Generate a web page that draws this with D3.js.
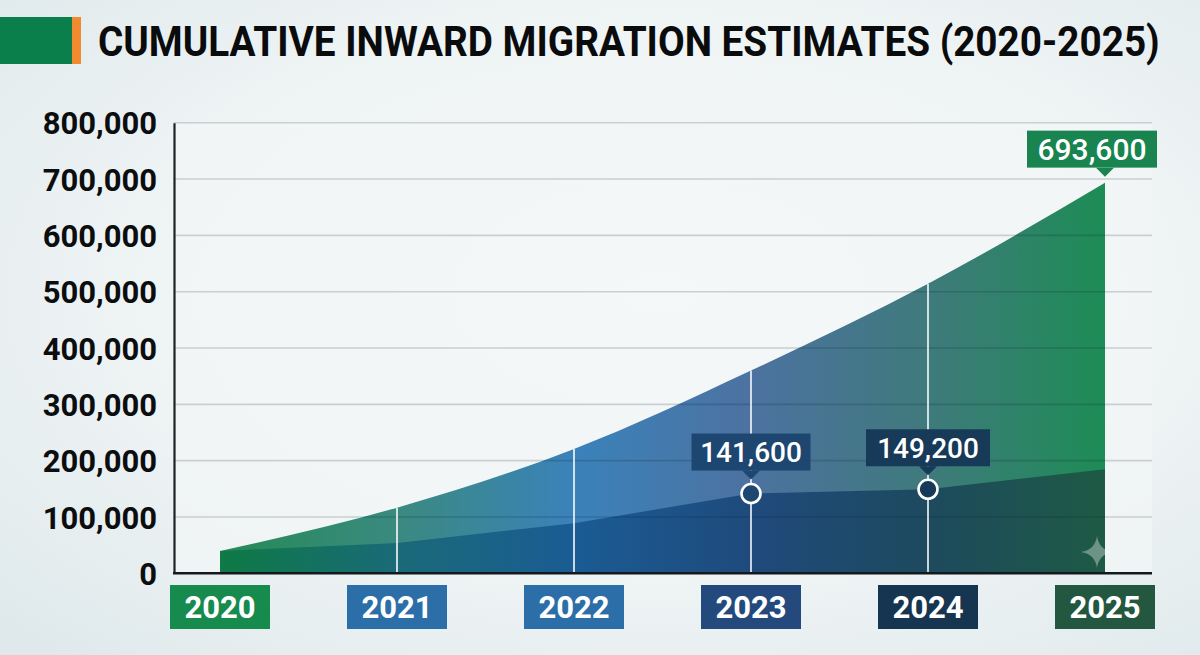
<!DOCTYPE html>
<html><head><meta charset="utf-8">
<script src="https://cdn.jsdelivr.net/npm/d3@7/dist/d3.min.js"></script>
<style>html,body{margin:0;padding:0;overflow:hidden;background:#eef3f4}svg{display:block}</style>
</head><body><svg id="c" width="1200" height="655"></svg>
<script>
const years = [2020, 2021, 2022, 2023, 2024, 2025];
const cumulative = [39600, 116500, 220800, 360000, 514000, 693600];
const annual = [39600, 53800, 89000, 141600, 149200, 184700];
const yTicks = [0, 100000, 200000, 300000, 400000, 500000, 600000, 700000, 800000];
const titleText = "CUMULATIVE INWARD MIGRATION ESTIMATES (2020-2025)";
const callouts = [
  {year: 2023, series: "annual", label: "141,600", fill: "#1d4670"},
  {year: 2024, series: "annual", label: "149,200", fill: "#173a58"},
  {year: 2025, series: "cumulative", label: "693,600", fill: "#1a8450"}
];
const yearBoxColors = ["#178a4e", "#2b6ea8", "#2b6ea8", "#244a7d", "#163550", "#23573f"];

const svg = d3.select("#c");
const W = 1200, H = 655;
const defs = svg.append("defs");

const bg = defs.append("radialGradient").attr("id","bg").attr("cx","55%").attr("cy","45%").attr("r","75%");
bg.append("stop").attr("offset","0%").attr("stop-color","#f7f9fa");
bg.append("stop").attr("offset","60%").attr("stop-color","#eef3f4");
bg.append("stop").attr("offset","100%").attr("stop-color","#dfe9eb");
svg.append("rect").attr("width",W).attr("height",H).attr("fill","url(#bg)");

const x = d3.scalePoint().domain(years).range([220, 1105]);
const y = d3.scaleLinear().domain([0, 800000]).range([573.3, 122.7]);
const left = 174, right = 1152;

function hGrad(id, stops){
  const g = defs.append("linearGradient").attr("id", id).attr("gradientUnits","userSpaceOnUse")
    .attr("x1", x(2020)).attr("x2", x(2025)).attr("y1",0).attr("y2",0);
  stops.forEach(s => g.append("stop").attr("offset", s[0]).attr("stop-color", s[1]));
}
hGrad("upG", [[0,"#258a55"],[0.2,"#3a8a80"],[0.4,"#3a82ba"],[0.6,"#4c72a0"],[0.8,"#3f7a7c"],[1,"#1d8c55"]]);
hGrad("loG", [[0,"#0e7a45"],[0.2,"#1a6a78"],[0.4,"#1a5c94"],[0.6,"#1f4a7c"],[0.8,"#1d4a5e"],[1,"#1e5a44"]]);

svg.append("rect").attr("x",left).attr("y",y(800000)).attr("width",right-left).attr("height",y(0)-y(800000))
  .attr("fill","#f3f6f7").attr("opacity",0.6);

svg.append("g").selectAll("line").data(yTicks.filter(d=>d>0)).join("line")
  .attr("x1",left).attr("x2",right).attr("y1",d=>y(d)).attr("y2",d=>y(d))
  .attr("stroke","#c9cfd2").attr("stroke-width",1.6);

const upArea = d3.area().x((d,i)=>x(years[i])).y0(y(0)).y1(d=>y(d)).curve(d3.curveMonotoneX);
const loArea = d3.area().x((d,i)=>x(years[i])).y0(y(0)).y1(d=>y(d)).curve(d3.curveLinear);
svg.append("path").datum(cumulative).attr("d", upArea).attr("fill","url(#upG)");
svg.append("path").datum(annual).attr("d", loArea).attr("fill","url(#loG)");

const clip = defs.append("clipPath").attr("id","areaClip");
clip.append("path").datum(cumulative).attr("d", upArea);
svg.append("g").attr("clip-path","url(#areaClip)").selectAll("line").data(yTicks.filter(d=>d>0)).join("line")
  .attr("x1",left).attr("x2",right).attr("y1",d=>y(d)).attr("y2",d=>y(d))
  .attr("stroke","#0a1a2a").attr("stroke-opacity",0.18).attr("stroke-width",1.6);

svg.append("g").selectAll("line").data(years.slice(1,5)).join("line")
  .attr("x1",d=>x(d)).attr("x2",d=>x(d)).attr("y1",y(0)).attr("y2",d=>y(cumulative[years.indexOf(d)]))
  .attr("stroke","#ffffff").attr("stroke-opacity",0.85).attr("stroke-width",1.8);

const sx = 1097, sy = 552, sr = 16;
svg.append("path")
  .attr("d", `M${sx},${sy-sr} Q${sx+2},${sy-2} ${sx+sr},${sy} Q${sx+2},${sy+2} ${sx},${sy+sr} Q${sx-2},${sy+2} ${sx-sr},${sy} Q${sx-2},${sy-2} ${sx},${sy-sr}Z`)
  .attr("fill","#ffffff").attr("opacity",0.35);

const yAxis = d3.axisLeft(y).tickValues(yTicks).tickSize(0).tickPadding(17)
  .tickFormat(d => d3.format(",")(d));
const yg = svg.append("g").attr("transform",`translate(${left},0)`).call(yAxis);
yg.select(".domain").attr("stroke","#1d2226").attr("stroke-width",2.2);
yg.selectAll("text").attr("font-family","Roboto, 'Liberation Sans', sans-serif").attr("font-weight",700)
  .attr("font-size",31).attr("fill","#0b0d0f").attr("dy","0.36em");

svg.append("line").attr("x1",left-1).attr("x2",right).attr("y1",y(0)).attr("y2",y(0))
  .attr("stroke","#14191d").attr("stroke-width",2.6);

const xb = svg.append("g");
years.forEach((yr,i)=>{
  xb.append("rect").attr("x",x(yr)-50).attr("y",585).attr("width",100).attr("height",44).attr("fill",yearBoxColors[i]);
  xb.append("text").attr("x",x(yr)).attr("y",607).attr("dy","0.36em").attr("text-anchor","middle")
    .attr("font-family","Roboto, sans-serif").attr("font-weight",700).attr("font-size",31).attr("fill","#fff").text(yr);
});

callouts.forEach(c=>{
  const i = years.indexOf(c.year);
  const v = c.series === "annual" ? annual[i] : cumulative[i];
  const cx = x(c.year), cy = y(v);
  const g = svg.append("g");
  const isEnd = c.series === "cumulative";
  const tipY = isEnd ? cy - 6 : cy - 14;
  const bh = 37;
  const bw = isEnd ? 130 : (c.label === "149,200" ? 124 : 119);
  const bx = isEnd ? 1027 : cx - bw/2;
  const by = tipY - 9 - bh;
  g.append("rect").attr("x",bx).attr("y",by).attr("width",bw).attr("height",bh).attr("fill",c.fill);
  g.append("path").attr("d",`M${cx-9},${by+bh} L${cx+9},${by+bh} L${cx},${tipY} Z`).attr("fill",c.fill);
  g.append("text").attr("x",bx+bw/2).attr("y",by+bh/2).attr("dy","0.36em").attr("text-anchor","middle")
    .attr("font-family","Roboto, sans-serif").attr("font-weight",500).attr("font-size",isEnd?30:28)
    .attr("fill","#fff").text(c.label);
  if(!isEnd){
    g.append("circle").attr("cx",cx).attr("cy",cy).attr("r",9.5)
      .attr("fill",c.fill).attr("stroke","#fff").attr("stroke-width",2.6);
  }
});

svg.append("rect").attr("x",0).attr("y",17).attr("width",72).attr("height",47).attr("fill","#0b7f4b");
svg.append("rect").attr("x",72).attr("y",17).attr("width",9).attr("height",47).attr("fill","#f28a30");
const title = svg.append("text").attr("x",0).attr("y",0).attr("font-family","Roboto, sans-serif").attr("font-weight",700)
  .attr("font-size",43).attr("fill","#0a0b0c").text(titleText);
const natural = title.node().getComputedTextLength();
const sxT = 1062 / natural;
title.attr("transform", `translate(98,56) scale(${sxT},1)`);
</script></body></html>
